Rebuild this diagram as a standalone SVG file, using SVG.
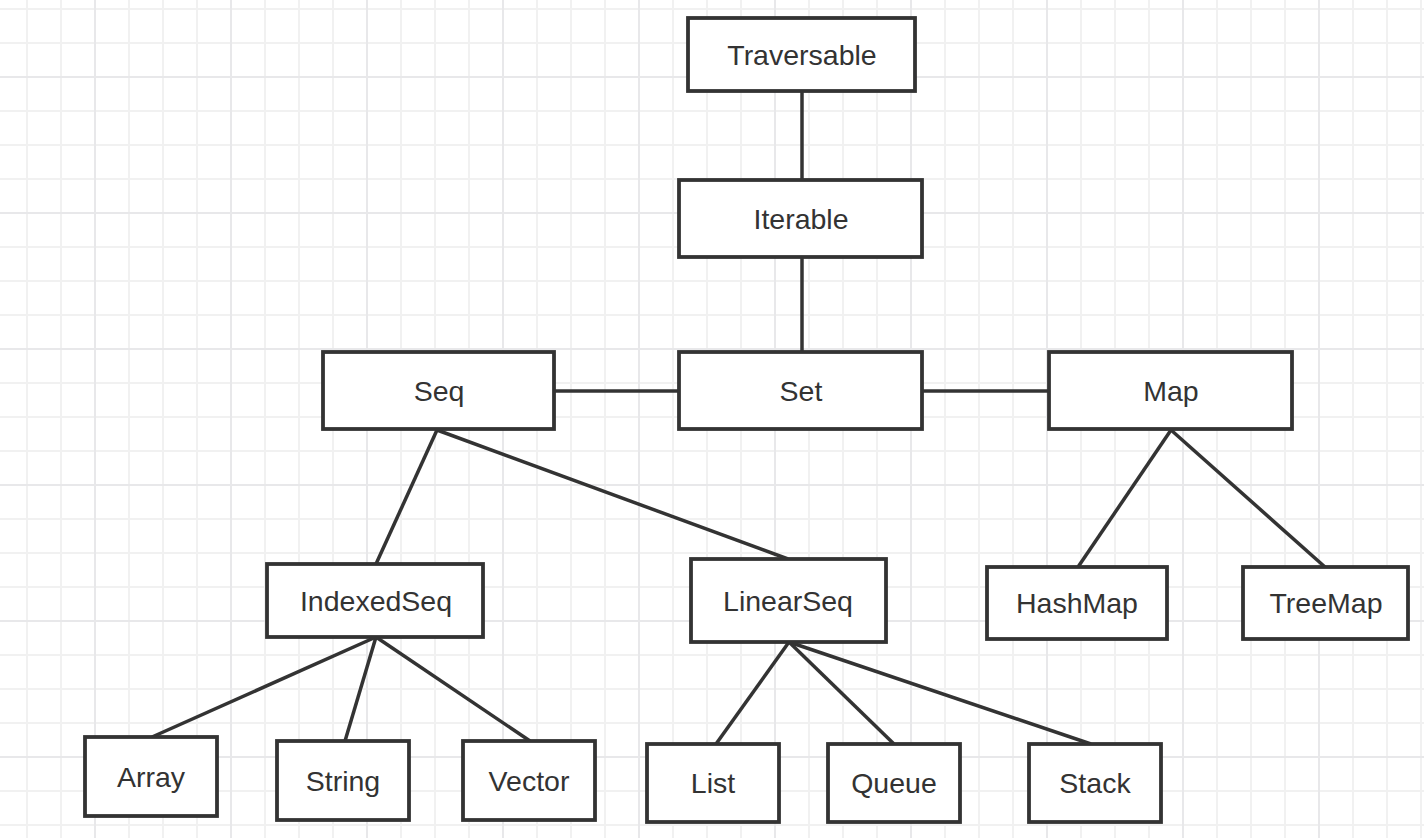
<svg xmlns="http://www.w3.org/2000/svg" width="1424" height="838" viewBox="0 0 1424 838">
  <defs>
    <!-- light grid: 34px cells, every fourth line a bit darker -->
    <pattern id="grid" x="26" y="8" width="136" height="136" patternUnits="userSpaceOnUse">
      <rect x="0" y="0" width="2" height="136" fill="#f1f1f1"/>
      <rect x="34" y="0" width="2" height="136" fill="#f1f1f1"/>
      <rect x="102" y="0" width="2" height="136" fill="#f1f1f1"/>
      <rect x="0" y="0" width="136" height="2" fill="#f1f1f1"/>
      <rect x="0" y="34" width="136" height="2" fill="#f1f1f1"/>
      <rect x="0" y="102" width="136" height="2" fill="#f1f1f1"/>
      <rect x="68" y="0" width="2" height="136" fill="#e8e8ea"/>
      <rect x="0" y="68" width="136" height="2" fill="#e8e8ea"/>
    </pattern>
    <style>
      .box { fill: #ffffff; stroke: #333333; stroke-width: 3.8; }
      .label { font-family: "Liberation Sans", Arial, sans-serif; font-size: 28.5px; fill: #333333; text-anchor: middle; }
      .edge { stroke: #333333; stroke-width: 3.5; fill: none; }
    </style>
  </defs>

  <rect x="0" y="0" width="1424" height="838" fill="#ffffff"/>
  <rect x="0" y="0" width="1424" height="838" fill="url(#grid)"/>

  <g id="connectors">
    <line class="edge" x1="802" y1="91" x2="802" y2="180"/>
    <line class="edge" x1="802" y1="257" x2="802" y2="352"/>
    <line class="edge" x1="554" y1="391" x2="679" y2="391"/>
    <line class="edge" x1="922" y1="391" x2="1049" y2="391"/>
    <line class="edge" x1="437" y1="430" x2="376" y2="564"/>
    <line class="edge" x1="437" y1="430" x2="788" y2="559"/>
    <line class="edge" x1="1171" y1="430" x2="1078" y2="567"/>
    <line class="edge" x1="1171" y1="430" x2="1325" y2="567"/>
    <line class="edge" x1="376" y1="637" x2="152" y2="737"/>
    <line class="edge" x1="376" y1="637" x2="345" y2="741"/>
    <line class="edge" x1="376" y1="637" x2="530" y2="741"/>
    <line class="edge" x1="789" y1="642" x2="716" y2="744"/>
    <line class="edge" x1="789" y1="642" x2="894" y2="744"/>
    <line class="edge" x1="789" y1="642" x2="1091" y2="744"/>
  </g>

  <g id="traversable">
    <rect class="box" x="688" y="18" width="227" height="73"/>
    <text class="label" x="802" y="65">Traversable</text>
  </g>
  <g id="iterable">
    <rect class="box" x="679" y="180" width="243" height="77"/>
    <text class="label" x="801" y="229">Iterable</text>
  </g>
  <g id="seq">
    <rect class="box" x="323" y="352" width="231" height="77"/>
    <text class="label" x="439" y="401">Seq</text>
  </g>
  <g id="set">
    <rect class="box" x="679" y="352" width="243" height="77"/>
    <text class="label" x="801" y="401">Set</text>
  </g>
  <g id="map">
    <rect class="box" x="1049" y="352" width="243" height="77"/>
    <text class="label" x="1171" y="401">Map</text>
  </g>
  <g id="indexedseq">
    <rect class="box" x="267" y="564" width="216" height="73"/>
    <text class="label" x="376" y="611">IndexedSeq</text>
  </g>
  <g id="linearseq">
    <rect class="box" x="691" y="559" width="195" height="83"/>
    <text class="label" x="788" y="611">LinearSeq</text>
  </g>
  <g id="hashmap">
    <rect class="box" x="987" y="567" width="180" height="72"/>
    <text class="label" x="1077" y="613">HashMap</text>
  </g>
  <g id="treemap">
    <rect class="box" x="1243" y="567" width="165" height="72"/>
    <text class="label" x="1326" y="613">TreeMap</text>
  </g>
  <g id="array">
    <rect class="box" x="85" y="737" width="132" height="79"/>
    <text class="label" x="151" y="787">Array</text>
  </g>
  <g id="string">
    <rect class="box" x="277" y="741" width="132" height="79"/>
    <text class="label" x="343" y="791">String</text>
  </g>
  <g id="vector">
    <rect class="box" x="463" y="741" width="132" height="79"/>
    <text class="label" x="529" y="791">Vector</text>
  </g>
  <g id="list">
    <rect class="box" x="647" y="744" width="132" height="78"/>
    <text class="label" x="713" y="793">List</text>
  </g>
  <g id="queue">
    <rect class="box" x="828" y="744" width="132" height="78"/>
    <text class="label" x="894" y="793">Queue</text>
  </g>
  <g id="stack">
    <rect class="box" x="1029" y="744" width="132" height="78"/>
    <text class="label" x="1095" y="793">Stack</text>
  </g>
</svg>
